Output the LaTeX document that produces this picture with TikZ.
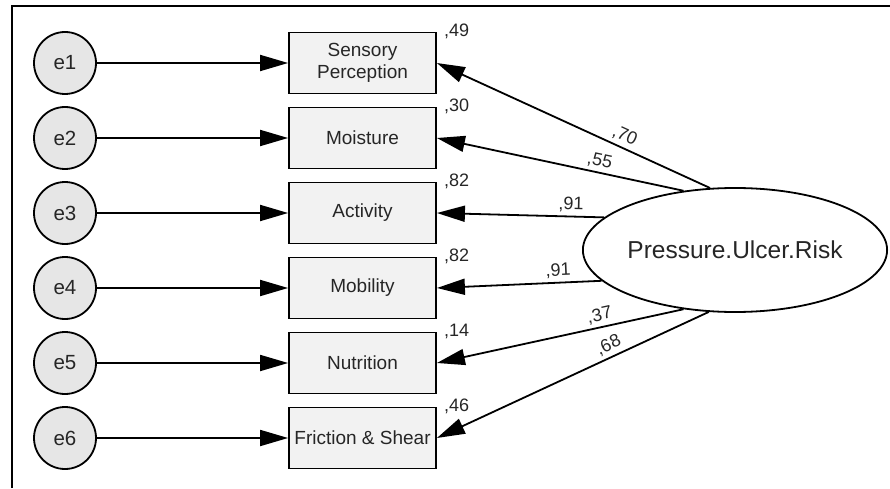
\documentclass[tikz,border=0pt]{standalone}
\usepackage{fontspec}
\setmainfont{Liberation Sans}
\usepackage{tikz}
\usetikzlibrary{arrows.meta}
\usetikzlibrary{shapes.geometric}
\newcommand{\ex}{65}
\newcommand{\bx}{362.5}
\definecolor{errfill}{HTML}{E6E6E6}
\definecolor{obsfill}{HTML}{F2F2F2}
\definecolor{txt}{HTML}{262626}
\tikzset{%
  err/.style={circle, draw, line width=1.8pt, fill=errfill, minimum size=62pt,
    inner sep=0pt, text=txt, font=\fontsize{20.5}{24}\selectfont},
  obs/.style={rectangle, draw, line width=1.8pt, fill=obsfill, minimum width=147pt,
    minimum height=61pt, inner sep=0pt, align=center, text=txt,
    font=\fontsize{19}{22}\selectfont},
  lat/.style={ellipse, draw, line width=1.8pt, minimum width=296pt, minimum height=124pt,
    inner sep=0pt, text=txt, font=\fontsize{24.5}{28}\selectfont},
  num/.style={inner sep=0pt, text=txt, font=\fontsize{18}{20}\selectfont},
  path/.style={line width=1.8pt, -{Triangle[length=28pt,width=16pt]}},
  load/.style={sloped, above=3.5pt, inner sep=0pt, text=txt, font=\fontsize{18}{20}\selectfont}
}
\begin{document}
\begin{tikzpicture}[x=1pt,y=1pt]
\useasboundingbox (0,0) rectangle (890,488);
\draw[line width=1.8pt] (12,0) -- (12,482) -- (890,482);

\node[err] (e1) at (\ex,425) {e1};
\node[err] (e2) at (\ex,350) {e2};
\node[err] (e3) at (\ex,275) {e3};
\node[err] (e4) at (\ex,200) {e4};
\node[err] (e5) at (\ex,125) {e5};
\node[err] (e6) at (\ex,50) {e6};

\node[obs] (sensory) at (\bx,425) {Sensory\\Perception};
\node[obs] (moisture) at (\bx,350) {Moisture};
\node[obs] (activity) at (\bx,275) {Activity};
\node[obs] (mobility) at (\bx,200) {Mobility};
\node[obs] (nutrition) at (\bx,125) {Nutrition};
\node[obs] (friction) at (\bx,50) {Friction \& Shear};

\node[lat] (risk) at (735,238) {Pressure.Ulcer.Risk};

% residuals
\draw[path] (e1) -- (sensory);
\draw[path] (e2) -- (moisture);
\draw[path] (e3) -- (activity);
\draw[path] (e4) -- (mobility);
\draw[path] (e5) -- (nutrition);
\draw[path] (e6) -- (friction);

% squared multiple correlations
\node[num, anchor=base west] (r1) at ([xshift=7pt,yshift=-5pt]sensory.north east) {,49};
\node[num, anchor=base west] (r2) at ([xshift=7pt,yshift=-5pt]moisture.north east) {,30};
\node[num, anchor=base west] (r3) at ([xshift=7pt,yshift=-5pt]activity.north east) {,82};
\node[num, anchor=base west] (r4) at ([xshift=7pt,yshift=-5pt]mobility.north east) {,82};
\node[num, anchor=base west] (r5) at ([xshift=7pt,yshift=-5pt]nutrition.north east) {,14};
\node[num, anchor=base west] (r6) at ([xshift=7pt,yshift=-5pt]friction.north east) {,46};

% loadings
\draw[path] (risk.112.8) -- node[load, pos=0.33] (l1) {,70} (sensory.east);
\draw[path] (risk.131.4) -- node[load, pos=0.35] (l2) {,55} (moisture.east);
\draw[path] (risk.166.8) -- node[load, pos=0.2] (l3) {,91} (activity.east);
\draw[path] (risk.193.6) -- node[load, pos=0.26] (l4) {,91} (mobility.east);
\draw[path] (risk.229.6) -- node[load, pos=0.33] (l5) {,37} (nutrition.east);
\draw[path] (risk.247.6) -- node[load, pos=0.35] (l6) {,68} (friction.east);

\end{tikzpicture}
\end{document}
